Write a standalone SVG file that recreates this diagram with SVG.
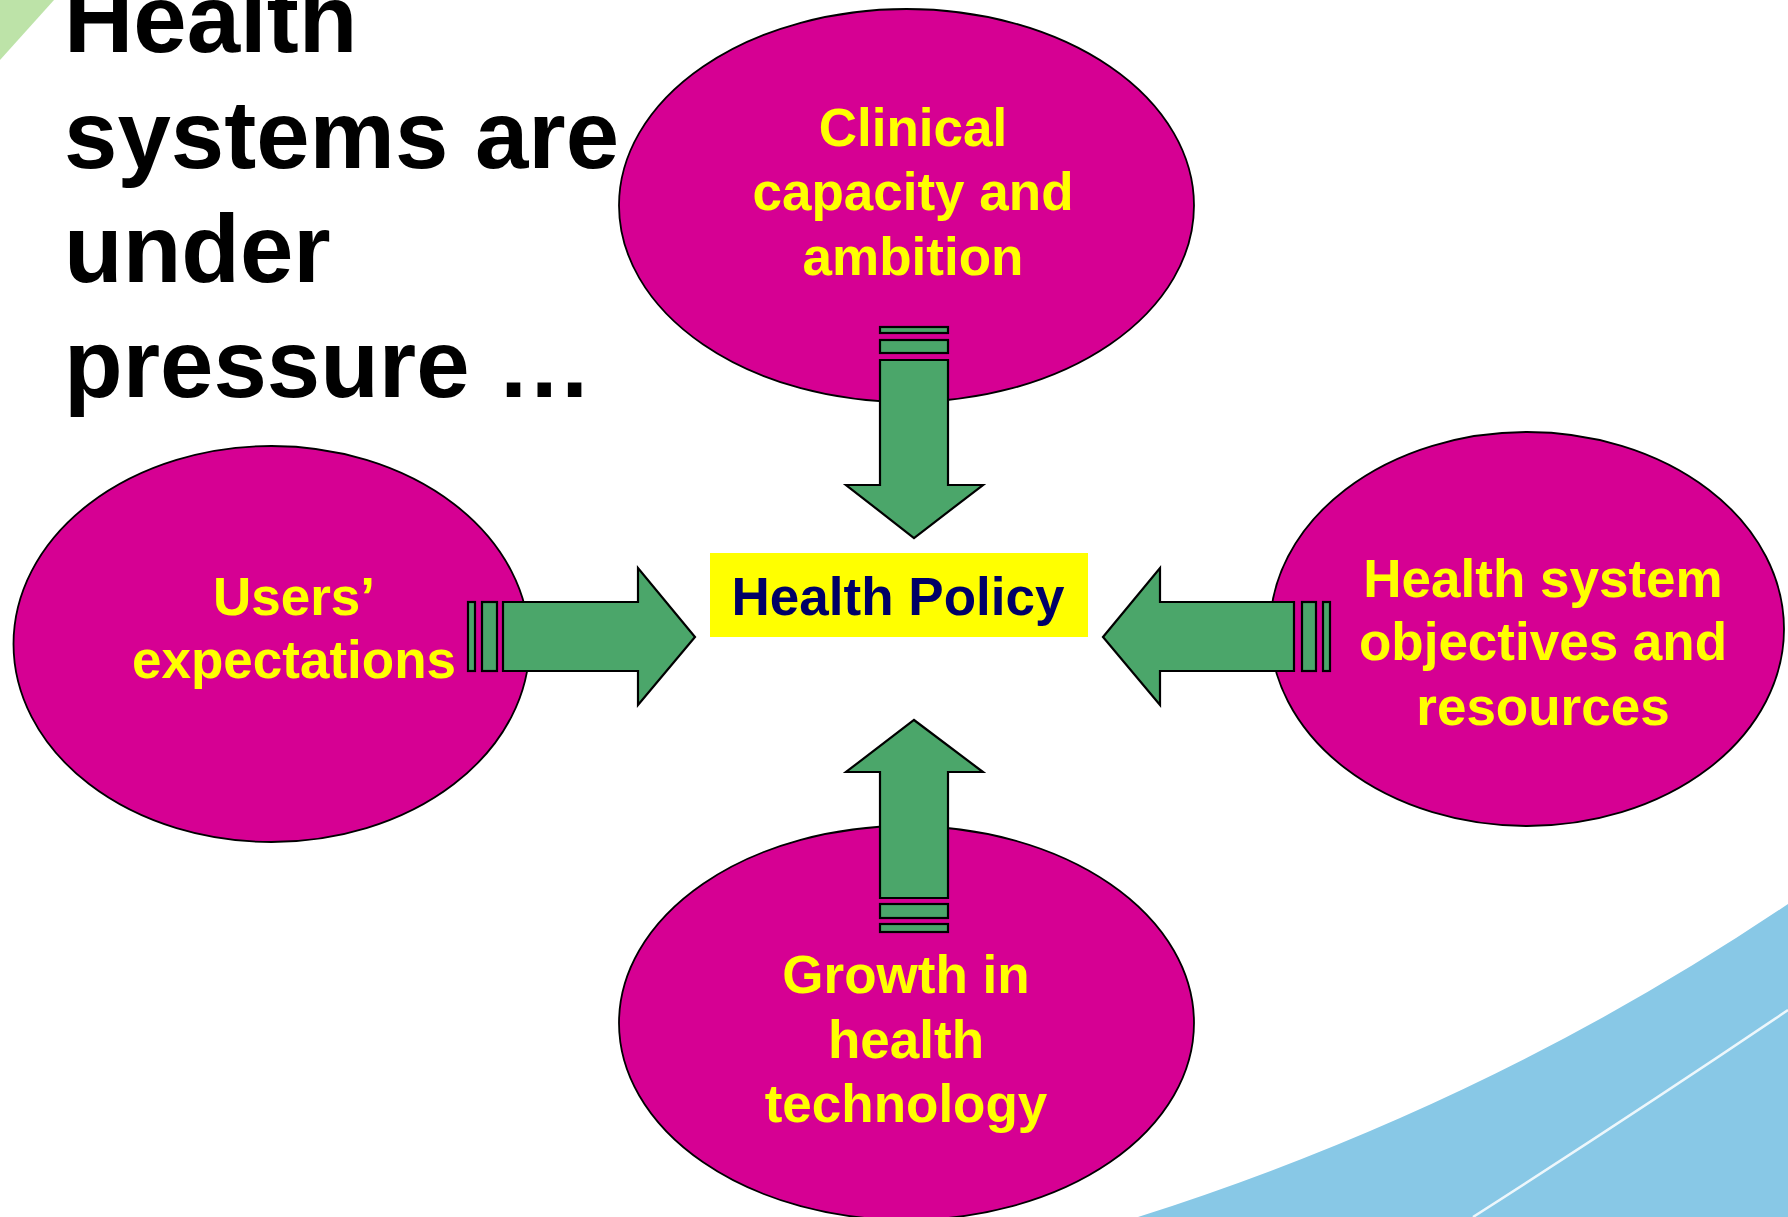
<svg xmlns="http://www.w3.org/2000/svg" width="1788" height="1217" viewBox="0 0 1788 1217">
<style>
.ell{fill:#D60093;stroke:#000;stroke-width:1.8}
.arr{fill:#4BA66A;stroke:#000;stroke-width:2.2;stroke-linejoin:miter}
.lbl{font-family:"Liberation Sans",Arial,sans-serif;font-weight:bold;font-size:53px;fill:#FFFF00;text-anchor:middle}
.title{font-family:"Liberation Sans",Arial,sans-serif;font-weight:bold;font-size:96px;fill:#000}
</style>
<rect width="1788" height="1217" fill="#fff"/>
<g id="background">
<path d="M1138 1217 Q1490 1105 1788 904 L1788 1217 Z" fill="#88C8E6"/>
<path d="M1473 1217 Q1640 1110 1788 1010" fill="none" stroke="#fff" stroke-width="2.5" opacity="0.85"/>
<polygon points="0,0 54,0 0,60" fill="#BDE3A8"/>
</g>
<g id="title">
<text class="title" x="64" y="52">Health</text>
<text class="title" x="64" y="168">systems are</text>
<text class="title" x="64" y="282">under</text>
<text class="title" x="64" y="397">pressure …</text>
</g>
<g id="node-clinical">
<ellipse class="ell" cx="906.5" cy="205.5" rx="287.5" ry="196.5"/>
<text class="lbl" x="913" y="146">Clinical</text>
<text class="lbl" x="913" y="210">capacity and</text>
<text class="lbl" x="913" y="275">ambition</text>
</g>
<g id="node-users">
<ellipse class="ell" cx="271.5" cy="644" rx="258" ry="198"/>
<text class="lbl" x="294" y="615">Users’</text>
<text class="lbl" x="294" y="678">expectations</text>
</g>
<g id="node-objectives">
<ellipse class="ell" cx="1527" cy="629" rx="257" ry="197"/>
<text class="lbl" x="1543" y="597">Health system</text>
<text class="lbl" x="1543" y="660">objectives and</text>
<text class="lbl" x="1543" y="725">resources</text>
</g>
<g id="node-technology">
<ellipse class="ell" cx="906.5" cy="1023" rx="287.5" ry="197"/>
<text class="lbl" x="906" y="993">Growth in</text>
<text class="lbl" x="906" y="1058">health</text>
<text class="lbl" x="906" y="1122">technology</text>
</g>
<g id="connectors">
<g id="arrow-down">
<rect class="arr" x="880" y="327" width="68" height="6"/>
<rect class="arr" x="880" y="340" width="68" height="13"/>
<polygon class="arr" points="880,360 948,360 948,485 983,485 914,538 846,485 880,485"/>
</g>
<g id="arrow-up">
<polygon class="arr" points="914,720 983,772 948,772 948,898 880,898 880,772 846,772"/>
<rect class="arr" x="880" y="904" width="68" height="14"/>
<rect class="arr" x="880" y="924" width="68" height="8"/>
</g>
<g id="arrow-right">
<rect class="arr" x="468" y="602" width="7" height="69"/>
<rect class="arr" x="482" y="602" width="15" height="69"/>
<polygon class="arr" points="503,602 638,602 638,568 695,637 638,705 638,671 503,671"/>
</g>
<g id="arrow-left">
<polygon class="arr" points="1103,637 1160,568 1160,602 1294,602 1294,671 1160,671 1160,705"/>
<rect class="arr" x="1302" y="602" width="14" height="69"/>
<rect class="arr" x="1323" y="602" width="7" height="69"/>
</g>
</g>
<g id="node-health-policy">
<rect x="710" y="553" width="378" height="84" fill="#FFFF00"/>
<text x="898" y="615" font-family="'Liberation Sans',Arial,sans-serif" font-weight="bold" font-size="53" fill="#000066" text-anchor="middle">Health Policy</text>
</g>
</svg>
